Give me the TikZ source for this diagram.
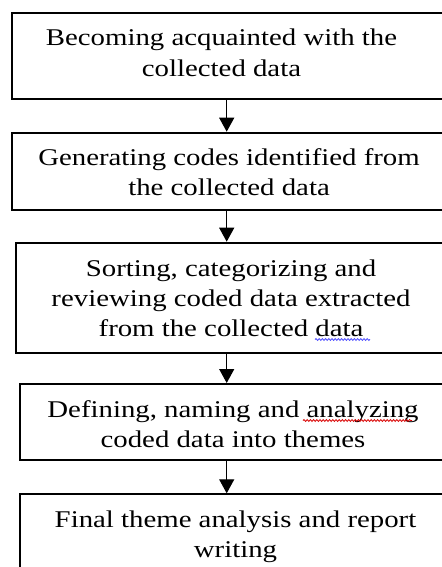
\documentclass[tikz,border=0pt]{standalone}
\usepackage{fontspec}
\setmainfont{Liberation Serif}[FakeStretch=1.2]
\usetikzlibrary{arrows.meta,decorations.pathmorphing}

\tikzset{
  stage/.style={draw, line width=1.5pt, inner sep=0pt, anchor=north west,
    minimum width=330pt},
  % anchored at the baseline of the last line
  caption/.style={align=center, inner sep=0pt, anchor=base,
    font=\fontsize{18pt}{22.5pt}\selectfont},
  flow/.style={line width=0.9pt,
    -{Triangle[width=11.25pt,length=10.5pt]}},
  spellred/.style={draw=red!85!black, line width=0.6pt,
    decorate, decoration={snake, amplitude=0.7pt, segment length=2.4pt}},
  spellblue/.style={draw=blue!70!white, line width=0.6pt,
    decorate, decoration={snake, amplitude=0.7pt, segment length=2.4pt}}
}

\begin{document}
\begin{tikzpicture}[x=0.75pt, y=-0.75pt]
  \path[use as bounding box] (0,0) rectangle (442,567);
  \clip (0,0) rectangle (442,567);
  \fill[white] (0,0) rectangle (442,567);

  % the five stages, boxes run off the right-hand side
  \node[stage, minimum height=64.5pt] (b1) at (10.5,12.3) {};
  \node[stage, minimum height=58pt]   (b2) at (11,131.7) {};
  \node[stage, minimum height=82.5pt] (b3) at (15,241.7) {};
  \node[stage, minimum height=57pt]   (b4) at (19.3,383) {};
  \node[stage, minimum height=75pt]   (b5) at (19,493.3) {};

  % stage texts
  \node[caption] (t1) at (221.5,76) {Becoming acquainted with the\\collected data};
  \node[caption] (t2) at (229,195) {Generating codes identified from\\the collected data};
  \node[caption] (t3) at (231,336) {Sorting, categorizing and\\reviewing coded data extracted\\from the collected data};
  \node[caption] (t4) at (233,447) {Defining, naming and analyzing\\coded data into themes};
  \node[caption] (t5) at (235.5,557) {Final theme analysis and report\\writing};

  % connectors
  \coordinate (ax) at (226.7,0);
  \draw[flow] (b1.south -| ax) -- (b2.north -| ax);
  \draw[flow] (b2.south -| ax) -- (b3.north -| ax);
  \draw[flow] (b3.south -| ax) -- (b4.north -| ax);
  \draw[flow] (b4.south -| ax) -- (b5.north -| ax);

  % proofing marks under words
  \draw[spellblue] (315,339.5) -- (370,339.5);
  \draw[spellred] (303,420.5) -- (412,420.5);
\end{tikzpicture}
\end{document}
